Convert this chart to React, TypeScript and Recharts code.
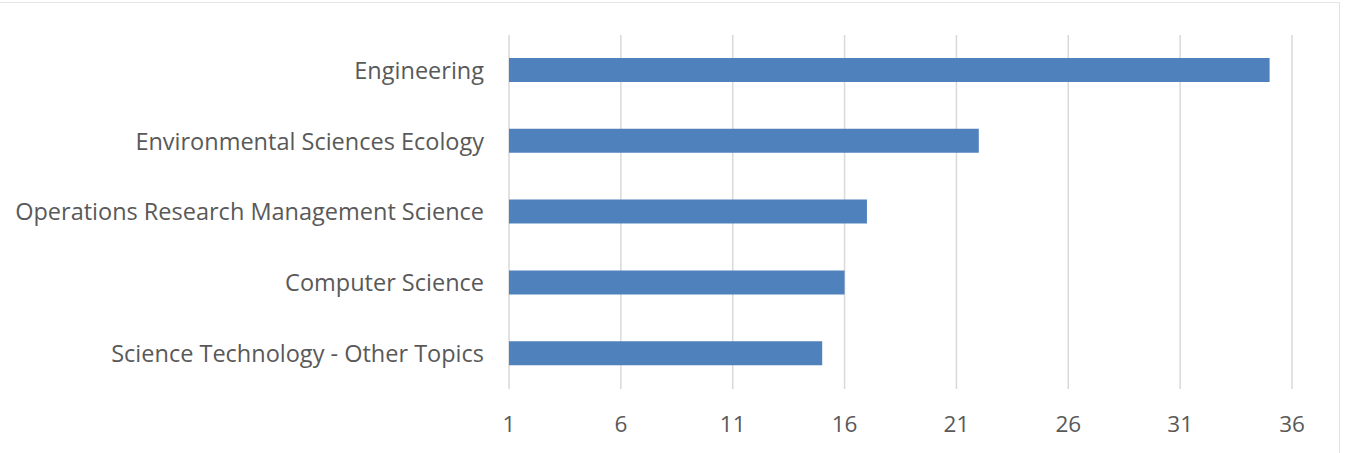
import { Bar, BarChart, CartesianGrid, XAxis, YAxis } from "recharts";

const categories = [
  "Engineering",
  "Environmental Sciences Ecology",
  "Operations Research Management Science",
  "Computer Science",
  "Science Technology - Other Topics",
];
const counts = [35, 22, 17, 16, 15];
const xTicks = [1, 6, 11, 16, 21, 26, 31, 36];

const data = categories.map((name, i) => ({ name, count: counts[i] }));

const font = "'Open Sans', sans-serif";
const yTickStyle = { fill: "#595959", fontSize: 23.5, fontFamily: font };
const xTickStyle = { fill: "#595959", fontSize: 22.5, fontFamily: font };

export default function App() {
  return (
    <div style={{ position: "absolute", top: 0, left: 0, width: 1348, height: 453, background: "#fff" }}>
      <div style={{ position: "absolute", top: 2, left: 0, width: 1339, height: 451, borderTop: "1px solid #e6e6e6", borderRight: "1px solid #e0e0e0" }} />
      <BarChart
        width={1348}
        height={453}
        data={data}
        layout="vertical"
        margin={{ top: 35, right: 56, bottom: 0, left: 0 }}
        barCategoryGap={0}
        style={{ position: "absolute", top: 0, left: 0 }}
      >
        <CartesianGrid horizontal={false} stroke="#d9d9d9" strokeWidth={1.5} />
        <XAxis
          type="number"
          domain={[1, 36]}
          ticks={xTicks}
          axisLine={false}
          tickLine={false}
          tickSize={0}
          tickMargin={27}
          height={64}
          tick={xTickStyle}
          interval={0}
        />
        <YAxis
          type="category"
          dataKey="name"
          width={509}
          axisLine={false}
          tickLine={false}
          tickSize={0}
          tickMargin={25}
          tick={yTickStyle}
          interval={0}
        />
        <Bar dataKey="count" fill="#4f81bd" barSize={24} isAnimationActive={false} />
      </BarChart>
    </div>
  );
}
